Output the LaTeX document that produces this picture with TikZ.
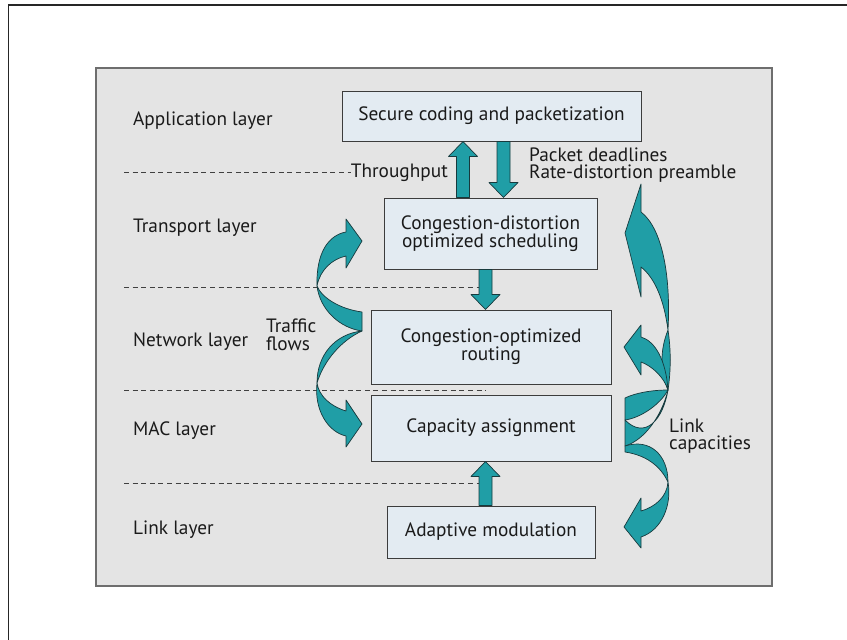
\documentclass[tikz,border=0pt]{standalone}
\usepackage{fontspec}
\setmainfont{PT Sans}
\usetikzlibrary{calc}

\definecolor{panelfill}{HTML}{E4E4E4}
\definecolor{panelline}{HTML}{6E6E6E}
\definecolor{boxfill}{HTML}{E3EBF2}
\definecolor{boxline}{HTML}{3C3C3C}
\definecolor{flowfill}{HTML}{209EA6}
\definecolor{flowline}{HTML}{173A3D}
\definecolor{txt}{HTML}{1A1A1A}

% vertical block arrow with its tip on the second coordinate
\newcommand{\blockarrow}[2]{%
  \filldraw[flow] let \p1=(#1), \p2=(#2), \n1={sign(\y2-\y1)} in
    (\x1-6.5pt,\y1) -- (\x1-6.5pt,\y2-\n1*15pt) -- (\x1-14.5pt,\y2-\n1*15pt)
    -- (\x1,\y2) -- (\x1+14.5pt,\y2-\n1*15pt) -- (\x1+6.5pt,\y2-\n1*15pt)
    -- (\x1+6.5pt,\y1) -- cycle;}

\begin{document}
\begin{tikzpicture}[x=1pt,y=-1pt,
  frame/.style={draw=black!85,line width=1.4pt},
  panel/.style={fill=panelfill,draw=panelline,line width=1.2pt},
  stage/.style={draw=boxline,fill=boxfill,line width=1pt,inner sep=0pt,
    align=center,text=txt,font=\fontsize{19.3pt}{18pt}\selectfont},
  label/.style={inner sep=0pt,text=txt,font=\fontsize{19.3pt}{17.8pt}\selectfont},
  layerline/.style={draw=black!75,line width=0.9pt,dash pattern=on 5pt off 3.6pt},
  flow/.style={fill=flowfill,draw=flowline,line width=0.7pt,line join=round}]

\useasboundingbox (0,0) rectangle (847,640);
\fill[white] (0,0) rectangle (847,640);
\draw[frame] (8.5,640) -- (8.5,5) -- (847,5);
\path[panel] (96,68) rectangle (772,586);

% protocol stages
\node[stage,minimum width=299pt,minimum height=50pt] (sec) at (491.5,116) {Secure coding and packetization};
\node[stage,minimum width=213pt,minimum height=71pt] (cds) at (490.5,233.5) {Congestion-distortion\\optimized scheduling};
\node[stage,minimum width=240pt,minimum height=74pt] (cor) at (491,347) {Congestion-optimized\\routing};
\node[stage,minimum width=240pt,minimum height=66pt] (cap) at (491,428) {Capacity assignment};
\node[stage,minimum width=208pt,minimum height=52pt] (ada) at (491,532) {Adaptive modulation};

% layer names
\node[label,anchor=base west] (lapp) at (133,125) {Application layer};
\node[label,anchor=base west] (ltra) at (133,232) {Transport layer};
\node[label,anchor=base west] (lnet) at (133,346) {Network layer};
\node[label,anchor=base west] (lmac) at (133,435) {MAC layer};
\node[label,anchor=base west] (llnk) at (133,534) {Link layer};

% arrow annotations
\node[label,anchor=base east] (thr) at (448,177) {Throughput};
\node[label,align=left,anchor=west] (pkt) at (529,165) {Packet deadlines\\Rate-distortion preamble};
\node[label,align=left,anchor=west] (trf) at (266,335) {Traffic\\flows};
\node[label,align=left,anchor=west] (lnk) at (669,436) {Link\\capacities};

% layer separators
\coordinate (lx) at (124,0);
\coordinate (colA) at (463,0);
\coordinate (colB) at (503.5,0);
\coordinate (colC) at (485.5,0);
\draw[layerline] (thr.west -| lx) -- (thr.west);
\draw[layerline] (124,287) -- (485.5,287);
\draw[layerline] (124,390) -- (485.5,390);
\draw[layerline] (124,483) -- (485.5,483);

% data flow between stages
\blockarrow{cds.north -| colA}{sec.south -| colA}
\blockarrow{sec.south -| colB}{cds.north -| colB}
\blockarrow{cds.south -| colC}{cor.north -| colC}
\blockarrow{ada.north -| colC}{cap.south -| colC}

% traffic flows: twisted ribbon on the left
\filldraw[flow] (317,286) .. controls (320,270) and (332,259) .. (346,256)
  -- (346,268) -- (362,241) -- (346,219) -- (346,232)
  .. controls (329,235) and (316,252) .. (317,286) -- cycle;
\filldraw[flow] (317,286) .. controls (322,298) and (340,309) .. (362,312)
  -- (362,331) .. controls (340,328) and (320,310) .. (317,286) -- cycle;
\filldraw[flow] (362,331) .. controls (335,334) and (317,355) .. (317,383)
  .. controls (324,360) and (342,340) .. (362,331) -- cycle;
\filldraw[flow] (317,383) .. controls (314,410) and (328,432) .. (346,436)
  -- (346,447) -- (362,424) -- (346,400) -- (346,411)
  .. controls (330,406) and (319,396) .. (317,383) -- cycle;

% link capacities: twisted ribbons on the right
\filldraw[flow] (641,184) -- (641,212) .. controls (662,228) and (671,275) .. (668,330)
  .. controls (664,300) and (655,278) .. (641,267) -- (641,297) -- (625,233) -- cycle;
\filldraw[flow] (668,330) .. controls (671,350) and (671,370) .. (668,390)
  .. controls (660,370) and (660,350) .. (668,330) -- cycle;
\filldraw[flow] (625,420) .. controls (645,440) and (663,420) .. (668,390)
  .. controls (662,415) and (645,440) .. (625,446) -- cycle;
\filldraw[flow] (668,390) .. controls (666,360) and (655,341) .. (641,337)
  -- (641,325) -- (624,347) -- (641,375) -- (641,362)
  .. controls (652,366) and (664,377) .. (668,390) -- cycle;
\filldraw[flow] (668,390) .. controls (652,390) and (635,393) .. (625,398)
  -- (625,420) .. controls (640,418) and (660,405) .. (668,390) -- cycle;
\filldraw[flow] (625,446) .. controls (650,438) and (668,455) .. (668,482)
  .. controls (660,465) and (645,455) .. (625,452) -- cycle;
\filldraw[flow] (668,482) .. controls (672,505) and (662,530) .. (641,537)
  -- (641,548) -- (624,527) -- (641,498) -- (641,511)
  .. controls (655,507) and (667,497) .. (668,482) -- cycle;

\end{tikzpicture}
\end{document}
